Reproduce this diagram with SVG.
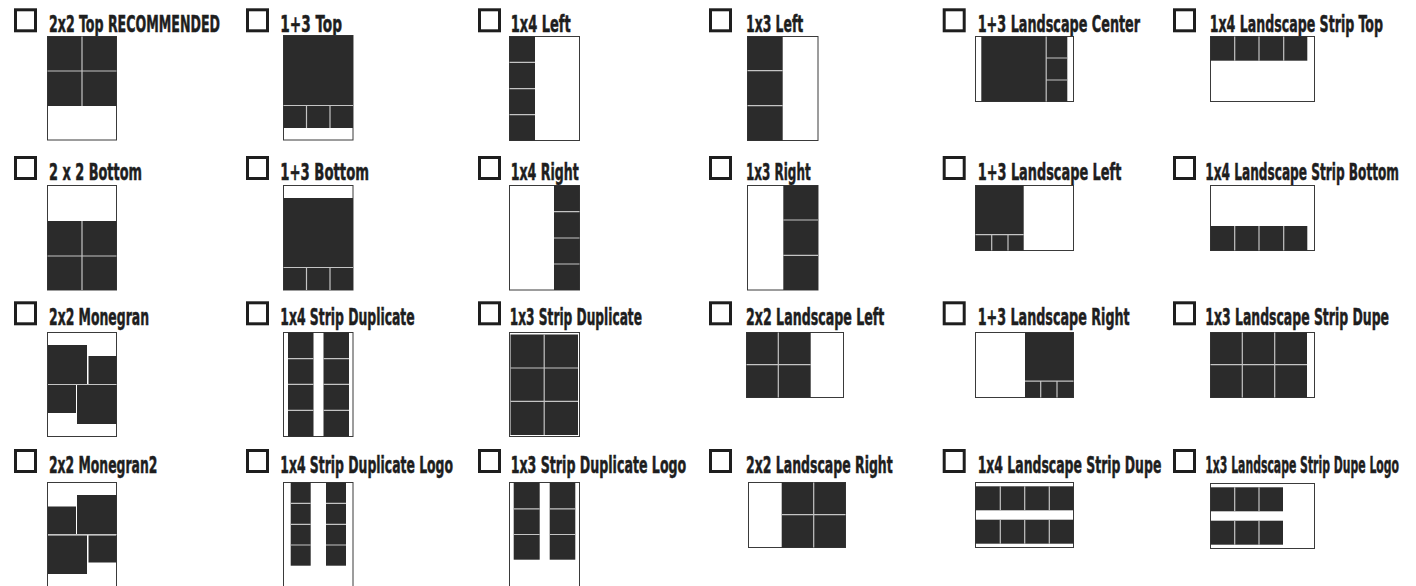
<svg xmlns="http://www.w3.org/2000/svg" width="1416" height="586" viewBox="0 0 1416 586">
<style>
.lbl{font-family:"Liberation Sans Narrow","DejaVu Sans Condensed","Liberation Sans",sans-serif;font-weight:bold;font-size:23.5px;fill:#1e1e1e;stroke:#1e1e1e;stroke-width:0.5}
.cb{fill:none;stroke:#1e1e1e;stroke-width:3}
.fr{fill:#fff;stroke:#3a3a3a;stroke-width:1}
.dk{fill:#2b2b2b}
.gl{fill:none;stroke:#c4c4c4;stroke-width:1.2}
</style>
<rect width="1416" height="586" fill="#fff"/>
<g id="connectors"/>

<g id="n-2x2-top">
<rect class="cb" x="15.5" y="9.8" width="20" height="21"/>
<text class="lbl" transform="translate(49 32.3) scale(0.55 1)" textLength="311" lengthAdjust="spacingAndGlyphs">2x2 Top RECOMMENDED</text>
<rect class="fr" x="47.5" y="36.5" width="69" height="103.5"/>
<rect class="dk" x="47.5" y="36.5" width="69" height="69.5"/>
<path class="gl" d="M82 36.5V106M47.5 71H116.5"/>
</g>
<g id="n-2x2-bottom">
<rect class="cb" x="15.5" y="157.5" width="20" height="21"/>
<text class="lbl" transform="translate(49 180) scale(0.58 1)" textLength="160.3" lengthAdjust="spacingAndGlyphs">2 x 2 Bottom</text>
<rect class="fr" x="47.5" y="185.5" width="69" height="104.5"/>
<rect class="dk" x="47.5" y="221" width="69" height="69"/>
<path class="gl" d="M82 221V290M47.5 256H116.5"/>
</g>
<g id="n-2x2-monegran">
<rect class="cb" x="15.5" y="302.8" width="20" height="21"/>
<text class="lbl" transform="translate(49 325.3) scale(0.56 1)" textLength="178.6" lengthAdjust="spacingAndGlyphs">2x2 Monegran</text>
<rect class="fr" x="47.5" y="332.5" width="69" height="104"/>
<path class="gl" d="M48 384.5H116.5"/>
<rect class="dk" x="48" y="345" width="39" height="39"/>
<rect class="dk" x="88.5" y="356" width="28" height="28"/>
<rect class="dk" x="48" y="385" width="28" height="28"/>
<rect class="dk" x="77" y="385" width="39.5" height="39"/>
</g>
<g id="n-2x2-monegran2">
<rect class="cb" x="15.5" y="450.5" width="20" height="21"/>
<text class="lbl" transform="translate(49 473) scale(0.56 1)" textLength="193.4" lengthAdjust="spacingAndGlyphs">2x2 Monegran2</text>
<rect class="fr" x="47.5" y="482.5" width="69" height="104"/>
<path class="gl" d="M48 534.7H116.5"/>
<rect class="dk" x="48" y="506.5" width="28" height="27.5"/>
<rect class="dk" x="77" y="495" width="39.5" height="39"/>
<rect class="dk" x="48" y="535.5" width="39" height="38.5"/>
<rect class="dk" x="88.5" y="535.5" width="28" height="27"/>
</g>

<g id="n-1p3-top">
<rect class="cb" x="247.5" y="9.8" width="20" height="21"/>
<text class="lbl" transform="translate(280.3 32.3) scale(0.6 1)" textLength="102.8" lengthAdjust="spacingAndGlyphs">1+3 Top</text>
<rect class="fr" x="283.5" y="35.5" width="69.5" height="104.5"/>
<rect class="dk" x="283.5" y="35.5" width="69.5" height="92.5"/>
<path class="gl" d="M283.5 105.5H353M306.5 105.5V128M330 105.5V128"/>
</g>
<g id="n-1p3-bottom">
<rect class="cb" x="247.5" y="157.5" width="20" height="21"/>
<text class="lbl" transform="translate(280.3 180) scale(0.6 1)" textLength="147.8" lengthAdjust="spacingAndGlyphs">1+3 Bottom</text>
<rect class="fr" x="283.5" y="185.5" width="69.5" height="104.5"/>
<rect class="dk" x="283.5" y="198" width="69.5" height="92"/>
<path class="gl" d="M283.5 267.5H353M306.5 267.5V290M330 267.5V290"/>
</g>
<g id="n-1x4-strip-dup">
<rect class="cb" x="247.5" y="302.8" width="20" height="21"/>
<text class="lbl" transform="translate(280.3 325.3) scale(0.56 1)" textLength="240" lengthAdjust="spacingAndGlyphs">1x4 Strip Duplicate</text>
<rect class="fr" x="283.5" y="332.5" width="69.5" height="104"/>
<rect class="dk" x="288" y="332.5" width="25.5" height="104"/>
<rect class="dk" x="323.5" y="332.5" width="25.5" height="104"/>
<path class="gl" d="M288 358.7H313.5M288 384.3H313.5M288 410.3H313.5M323.5 358.7H349M323.5 384.3H349M323.5 410.3H349"/>
</g>
<g id="n-1x4-strip-dup-logo">
<rect class="cb" x="247.5" y="450.5" width="20" height="21"/>
<text class="lbl" transform="translate(280.3 473) scale(0.56 1)" textLength="308.4" lengthAdjust="spacingAndGlyphs">1x4 Strip Duplicate Logo</text>
<rect class="fr" x="283.5" y="482.5" width="69.5" height="104"/>
<rect class="dk" x="290.7" y="482.5" width="20" height="83.2"/>
<rect class="dk" x="326" y="482.5" width="20" height="83.2"/>
<path class="gl" d="M290.7 503.3H310.7M290.7 524.3H310.7M290.7 545H310.7M326 503.3H346M326 524.3H346M326 545H346"/>
</g>

<g id="n-1x4-left">
<rect class="cb" x="479.5" y="9.8" width="20" height="21"/>
<text class="lbl" transform="translate(510.7 32.3) scale(0.6 1)" textLength="100" lengthAdjust="spacingAndGlyphs">1x4 Left</text>
<rect class="fr" x="509.5" y="36.5" width="70" height="104"/>
<rect class="dk" x="509.5" y="36.5" width="25.5" height="104"/>
<path class="gl" d="M509.5 62.3H535M509.5 88.7H535M509.5 114.7H535"/>
</g>
<g id="n-1x4-right">
<rect class="cb" x="479.5" y="157.5" width="20" height="21"/>
<text class="lbl" transform="translate(510.7 180) scale(0.57 1)" textLength="119.3" lengthAdjust="spacingAndGlyphs">1x4 Right</text>
<rect class="fr" x="509.5" y="185.5" width="70" height="104.5"/>
<rect class="dk" x="554" y="185.5" width="25.5" height="104.5"/>
<path class="gl" d="M554 211.7H579.5M554 238H579.5M554 264H579.5"/>
</g>
<g id="n-1x3-strip-dup">
<rect class="cb" x="479.5" y="302.8" width="20" height="21"/>
<text class="lbl" transform="translate(509.7 325.3) scale(0.55 1)" textLength="240.5" lengthAdjust="spacingAndGlyphs">1x3 Strip Duplicate</text>
<rect class="fr" x="509.5" y="332.5" width="70" height="104"/>
<rect class="dk" x="510.5" y="334.5" width="67.5" height="100.5"/>
<path class="gl" d="M544.2 334.5V435M510.5 368H578M510.5 401.3H578"/>
</g>
<g id="n-1x3-strip-dup-logo">
<rect class="cb" x="479.5" y="450.5" width="20" height="21"/>
<text class="lbl" transform="translate(510.7 473) scale(0.57 1)" textLength="308" lengthAdjust="spacingAndGlyphs">1x3 Strip Duplicate Logo</text>
<rect class="fr" x="509.5" y="482.5" width="70" height="104"/>
<rect class="dk" x="513.7" y="482.5" width="26" height="77.2"/>
<rect class="dk" x="549.7" y="482.5" width="25.6" height="77.2"/>
<path class="gl" d="M513.7 508.8H539.7M513.7 534.5H539.7M549.7 508.8H575.3M549.7 534.5H575.3"/>
</g>

<g id="n-1x3-left">
<rect class="cb" x="710.5" y="9.8" width="20" height="21"/>
<text class="lbl" transform="translate(746 32.3) scale(0.6 1)" textLength="95.5" lengthAdjust="spacingAndGlyphs">1x3 Left</text>
<rect class="fr" x="747.5" y="36.5" width="70.5" height="104"/>
<rect class="dk" x="747.5" y="36.5" width="35.2" height="104"/>
<path class="gl" d="M747.5 70.7H782.7M747.5 105.7H782.7"/>
</g>
<g id="n-1x3-right">
<rect class="cb" x="710.5" y="157.5" width="20" height="21"/>
<text class="lbl" transform="translate(746 180) scale(0.55 1)" textLength="117.6" lengthAdjust="spacingAndGlyphs">1x3 Right</text>
<rect class="fr" x="747.5" y="185.5" width="70.5" height="104.5"/>
<rect class="dk" x="783.3" y="185.5" width="34.7" height="104.5"/>
<path class="gl" d="M783.3 220H818M783.3 255.3H818"/>
</g>
<g id="n-2x2-land-left">
<rect class="cb" x="710.5" y="302.8" width="20" height="21"/>
<text class="lbl" transform="translate(746 325.3) scale(0.57 1)" textLength="242.6" lengthAdjust="spacingAndGlyphs">2x2 Landscape Left</text>
<rect class="fr" x="746.5" y="332.5" width="97" height="65"/>
<rect class="dk" x="746.5" y="332.5" width="64.2" height="65"/>
<path class="gl" d="M778.3 332.5V397.5M746.5 364.7H810.7"/>
</g>
<g id="n-2x2-land-right">
<rect class="cb" x="710.5" y="450.5" width="20" height="21"/>
<text class="lbl" transform="translate(746 473) scale(0.56 1)" textLength="262" lengthAdjust="spacingAndGlyphs">2x2 Landscape Right</text>
<rect class="fr" x="748.5" y="482.5" width="97" height="65"/>
<rect class="dk" x="781.7" y="482.5" width="63.8" height="65"/>
<path class="gl" d="M813.7 482.5V547.5M781.7 514.7H845.5"/>
</g>

<g id="n-1p3-land-center">
<rect class="cb" x="944.2" y="9.8" width="20" height="21"/>
<text class="lbl" transform="translate(977.7 32.3) scale(0.58 1)" textLength="280" lengthAdjust="spacingAndGlyphs">1+3 Landscape Center</text>
<rect class="fr" x="975.5" y="36.5" width="98" height="65"/>
<rect class="dk" x="981.3" y="36.5" width="86" height="65"/>
<path class="gl" d="M1046.2 36.5V101.5M1046.2 58H1067.3M1046.2 80H1067.3"/>
</g>
<g id="n-1p3-land-left">
<rect class="cb" x="944.2" y="157.5" width="20" height="21"/>
<text class="lbl" transform="translate(977.7 180) scale(0.58 1)" textLength="247.6" lengthAdjust="spacingAndGlyphs">1+3 Landscape Left</text>
<rect class="fr" x="975.5" y="185.5" width="98" height="65"/>
<rect class="dk" x="975.5" y="185.5" width="48.2" height="65"/>
<path class="gl" d="M975.5 234.7H1023.7M991.7 234.7V250.5M1008 234.7V250.5"/>
</g>
<g id="n-1p3-land-right">
<rect class="cb" x="944.2" y="302.8" width="20" height="21"/>
<text class="lbl" transform="translate(977.7 325.3) scale(0.58 1)" textLength="262" lengthAdjust="spacingAndGlyphs">1+3 Landscape Right</text>
<rect class="fr" x="975.5" y="332.5" width="98" height="65"/>
<rect class="dk" x="1025" y="332.5" width="48.5" height="65"/>
<path class="gl" d="M1025 381.2H1073.5M1040.7 381.2V397.5M1057 381.2V397.5"/>
</g>
<g id="n-1x4-land-strip-dupe">
<rect class="cb" x="944.2" y="450.5" width="20" height="21"/>
<text class="lbl" transform="translate(977.7 473) scale(0.56 1)" textLength="327.9" lengthAdjust="spacingAndGlyphs">1x4 Landscape Strip Dupe</text>
<rect class="fr" x="975.5" y="482.5" width="98" height="65"/>
<rect class="dk" x="975.5" y="486.3" width="98" height="24"/>
<rect class="dk" x="975.5" y="519.7" width="98" height="24"/>
<path class="gl" d="M1000.3 486.3V510.3M1024.7 486.3V510.3M1049.3 486.3V510.3M1000.3 519.7V543.7M1024.7 519.7V543.7M1049.3 519.7V543.7"/>
</g>

<g id="n-1x4-land-strip-top">
<rect class="cb" x="1174.5" y="9.8" width="20" height="21"/>
<text class="lbl" transform="translate(1209.7 32.3) scale(0.56 1)" textLength="309.5" lengthAdjust="spacingAndGlyphs">1x4 Landscape Strip Top</text>
<rect class="fr" x="1210.5" y="36.5" width="104" height="65"/>
<rect class="dk" x="1210.5" y="36.5" width="96.8" height="24.2"/>
<path class="gl" d="M1234.7 36.5V60.7M1259 36.5V60.7M1283.7 36.5V60.7"/>
</g>
<g id="n-1x4-land-strip-bottom">
<rect class="cb" x="1174.5" y="157.5" width="20" height="21"/>
<text class="lbl" transform="translate(1205.3 180) scale(0.55 1)" textLength="352.2" lengthAdjust="spacingAndGlyphs">1x4 Landscape Strip Bottom</text>
<rect class="fr" x="1210.5" y="185.5" width="104" height="65"/>
<rect class="dk" x="1210.5" y="226" width="96.8" height="24.5"/>
<path class="gl" d="M1234.7 226V250.5M1259 226V250.5M1283.7 226V250.5"/>
</g>
<g id="n-1x3-land-strip-dupe">
<rect class="cb" x="1174.5" y="302.8" width="20" height="21"/>
<text class="lbl" transform="translate(1205.3 325.3) scale(0.56 1)" textLength="328" lengthAdjust="spacingAndGlyphs">1x3 Landscape Strip Dupe</text>
<rect class="fr" x="1210.5" y="332.5" width="104" height="65"/>
<rect class="dk" x="1210.5" y="332.5" width="96.5" height="65"/>
<path class="gl" d="M1242.3 332.5V397.5M1274.7 332.5V397.5M1210.5 364.7H1307"/>
</g>
<g id="n-1x3-land-strip-dupe-logo">
<rect class="cb" x="1174.5" y="450.5" width="20" height="21"/>
<text class="lbl" transform="translate(1205.3 473) scale(0.49 1)" textLength="395.3" lengthAdjust="spacingAndGlyphs">1x3 Landscape Strip Dupe Logo</text>
<rect class="fr" x="1210.5" y="483.5" width="104" height="65"/>
<rect class="dk" x="1210.7" y="487.3" width="72.3" height="24"/>
<rect class="dk" x="1210.7" y="520.7" width="72.3" height="24"/>
<path class="gl" d="M1234.7 487.3V511.3M1259 487.3V511.3M1234.7 520.7V544.7M1259 520.7V544.7"/>
</g>
</svg>
